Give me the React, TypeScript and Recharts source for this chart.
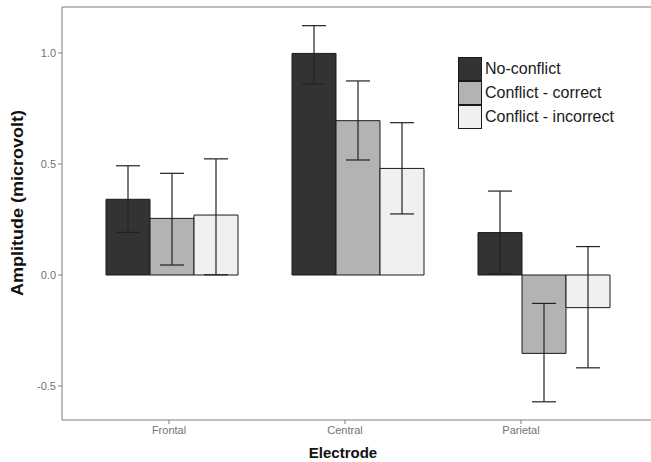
import React from 'react';
import { BarChart, Bar, XAxis, YAxis, ErrorBar, Legend, ReferenceLine } from 'recharts';

const electrodes = ['Frontal', 'Central', 'Parietal'];

const noConflict = [0.341, 0.998, 0.191];
const noConflictLow = [0.192, 0.860, 0.005];
const noConflictHigh = [0.492, 1.123, 0.378];

const conflictCorrect = [0.255, 0.695, -0.353];
const conflictCorrectLow = [0.045, 0.518, -0.571];
const conflictCorrectHigh = [0.458, 0.874, -0.128];

const conflictIncorrect = [0.270, 0.480, -0.147];
const conflictIncorrectLow = [0.001, 0.275, -0.418];
const conflictIncorrectHigh = [0.523, 0.686, 0.128];

const yTicks = [-0.5, 0, 0.5, 1.0];
const Y_MIN = -0.653;
const Y_MAX = 1.207;

const series = [
  { key: 'noConflict', name: 'No-conflict', color: '#333333' },
  { key: 'conflictCorrect', name: 'Conflict - correct', color: '#b3b3b3' },
  { key: 'conflictIncorrect', name: 'Conflict - incorrect', color: '#f0f0f0' },
];

const data = electrodes.map((electrode, i) => ({
  electrode,
  noConflict: noConflict[i],
  noConflictErr: [noConflict[i] - noConflictLow[i], noConflictHigh[i] - noConflict[i]],
  conflictCorrect: conflictCorrect[i],
  conflictCorrectErr: [conflictCorrect[i] - conflictCorrectLow[i], conflictCorrectHigh[i] - conflictCorrect[i]],
  conflictIncorrect: conflictIncorrect[i],
  conflictIncorrectErr: [conflictIncorrect[i] - conflictIncorrectLow[i], conflictIncorrectHigh[i] - conflictIncorrect[i]],
}));

const FONT = '"Liberation Sans", Arial, sans-serif';

const LegendBox = () => (
  <div style={{ fontFamily: FONT }}>
    {series.map(s => (
      <div key={s.key} style={{ display: 'flex', alignItems: 'center', height: 24 }}>
        <div style={{ width: 22, height: 22, background: s.color, border: '1px solid #1a1a1a', boxSizing: 'content-box' }} />
        <span style={{ marginLeft: 3, fontSize: 16, color: '#1a1a1a' }}>{s.name}</span>
      </div>
    ))}
  </div>
);

const App = () => {
  return (
    <div style={{ position: 'absolute', left: 0, top: 0, width: 651, height: 462, background: '#fff' }}>
      <BarChart
        width={651}
        height={462}
        data={data}
        margin={{ top: 7, right: 0, left: 0, bottom: 0 }}
        barCategoryGap={27}
        barGap={0}
      >
        <XAxis xAxisId="bars" dataKey="electrode" hide height={0} padding={{ left: 17, right: 14 }} />
        <XAxis
          xAxisId="labels"
          dataKey="electrode"
          height={42}
          padding={{ left: 19, right: 42 }}
          stroke="#7f7f7f"
          tickSize={4}
          tick={{ fontSize: 11, fill: '#737373', fontFamily: FONT }}
          label={({ viewBox }: any) => (
            <text x={viewBox.x + 281} y={viewBox.y + 38} textAnchor="middle" fontSize={15} fontWeight="bold" fill="#111" fontFamily={FONT}>
              Electrode
            </text>
          )}
        />
        <YAxis
          domain={[Y_MIN, Y_MAX]}
          ticks={yTicks}
          allowDataOverflow
          width={62}
          stroke="#7f7f7f"
          tickSize={4}
          tickFormatter={(v: number) => v.toFixed(1)}
          tick={{ fontSize: 11, fill: '#737373', fontFamily: FONT }}
          label={() => (
            <text
              x={17}
              y={203}
              transform="rotate(-90, 17, 203)"
              textAnchor="middle"
              dominantBaseline="central"
              fontSize={16}
              fontWeight="bold"
              fill="#111"
              fontFamily={FONT}
              textLength={186}
              lengthAdjust="spacingAndGlyphs"
            >
              Amplitude (microvolt)
            </text>
          )}
        />
        <ReferenceLine xAxisId="bars" y={Y_MAX} stroke="#7f7f7f" strokeWidth={1} />
        <Legend
          layout="vertical"
          verticalAlign="middle"
          align="center"
          content={LegendBox}
          wrapperStyle={{ position: 'absolute', left: 458, top: 57, width: 190 }}
        />
        {series.map(s => (
          <Bar
            key={s.key}
            xAxisId="bars"
            dataKey={s.key}
            name={s.name}
            fill={s.color}
            stroke="#1a1a1a"
            strokeWidth={1}
            isAnimationActive={false}
          >
            <ErrorBar dataKey={`${s.key}Err`} width={12} stroke="#222" strokeWidth={1.2} />
          </Bar>
        ))}
      </BarChart>
    </div>
  );
};

export default App;
